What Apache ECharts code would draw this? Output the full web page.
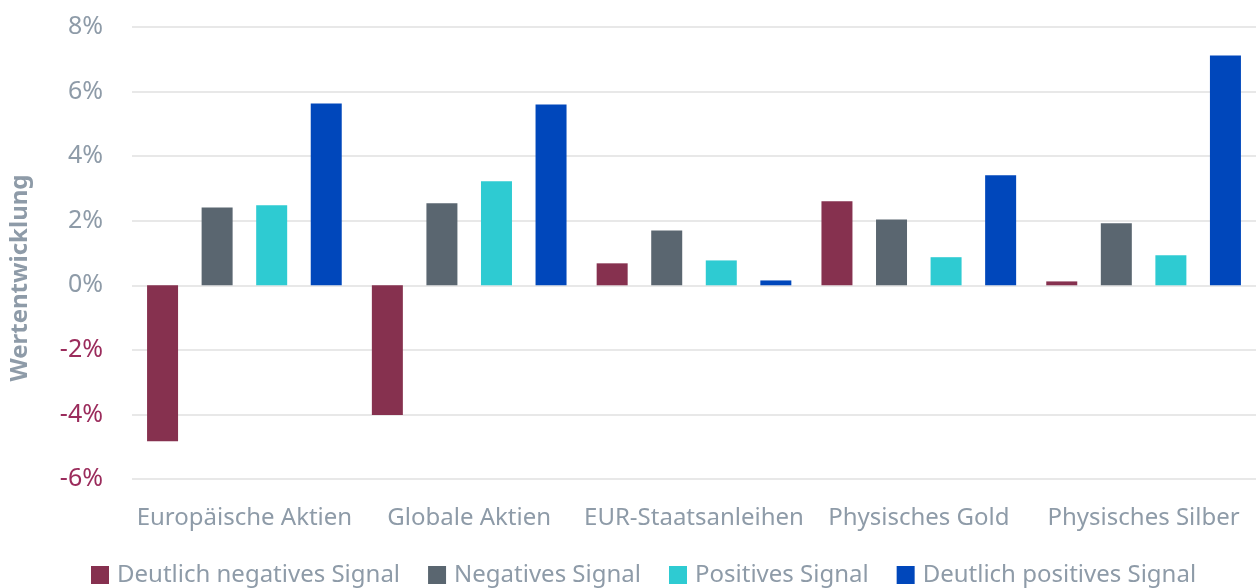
<!DOCTYPE html>
<html>
<head>
<meta charset="utf-8">
<script src="https://cdn.jsdelivr.net/npm/echarts@6/dist/echarts.min.js"></script>
<style>
  html, body { margin: 0; padding: 0; background: #fff; }
  .chart { width: 1256px; height: 588px; }
</style>
</head>
<body>
<div class="chart"></div>
<script>
// Balkendiagramm Wertentwicklung

const categories = ['Europäische Aktien', 'Globale Aktien', 'EUR-Staatsanleihen', 'Physisches Gold', 'Physisches Silber'];
const seriesNames = ['Deutlich negatives Signal', 'Negatives Signal', 'Positives Signal', 'Deutlich positives Signal'];
const deutlichNegativ = [-4.83, -4.02, 0.68, 2.60, 0.12];
const negativ = [2.41, 2.54, 1.70, 2.04, 1.92];
const positiv = [2.48, 3.22, 0.77, 0.87, 0.93];
const deutlichPositiv = [5.63, 5.60, 0.15, 3.41, 7.12];
const yTicks = [-6, -4, -2, 0, 2, 4, 6, 8];

(function () {
    let myChart = echarts.init(document.querySelector('.chart'));

    const colors = ['#86314f', '#5a6670', '#2ecbd2', '#0047bb'];
    const values = [deutlichNegativ, negativ, positiv, deutlichPositiv];
    const font = '"Noto Sans", sans-serif';

    let series = seriesNames.map(function (name, i) {
        return {
            name: name,
            type: 'bar',
            data: values[i],
            barWidth: 31,
            barGap: '76%',
            itemStyle: { color: colors[i] }
        };
    });

    let option = {
        animation: false,
        color: colors,
        grid: {
            left: 132,
            right: 0,
            top: 27,
            bottom: 109
        },
        legend: {
            bottom: -4,
            left: 86,
            icon: 'rect',
            itemWidth: 18,
            itemHeight: 18,
            itemGap: 28,
            textStyle: {
                color: '#8e9ba8',
                fontSize: 24,
                fontFamily: font,
                padding: [0, 0, 0, 3]
            },
            data: seriesNames
        },
        xAxis: {
            type: 'category',
            data: categories,
            axisLine: { show: false, onZero: false },
            axisTick: { show: false },
            axisLabel: {
                interval: 0,
                color: '#8e9ba8',
                fontSize: 24,
                fontFamily: font,
                margin: 27
            }
        },
        yAxis: {
            type: 'value',
            min: yTicks[0],
            max: yTicks[yTicks.length - 1],
            interval: 2,
            name: 'Wertentwicklung',
            nameLocation: 'middle',
            nameGap: 100,
            nameTextStyle: {
                color: '#8e9ba8',
                fontSize: 24,
                fontWeight: 'bold',
                fontFamily: font,
                padding: [0, 50, 0, 0]
            },
            axisLabel: {
                formatter: '{value}%',
                fontSize: 25,
                fontFamily: font,
                margin: 29,
                color: function (value) {
                    return value < 0 ? '#9b2c5c' : '#8e9ba8';
                }
            },
            splitLine: {
                lineStyle: { color: '#e8e8e8', width: 2 }
            }
        },
        series: series
    };

    myChart.setOption(option);
})();
</script>
</body>
</html>
